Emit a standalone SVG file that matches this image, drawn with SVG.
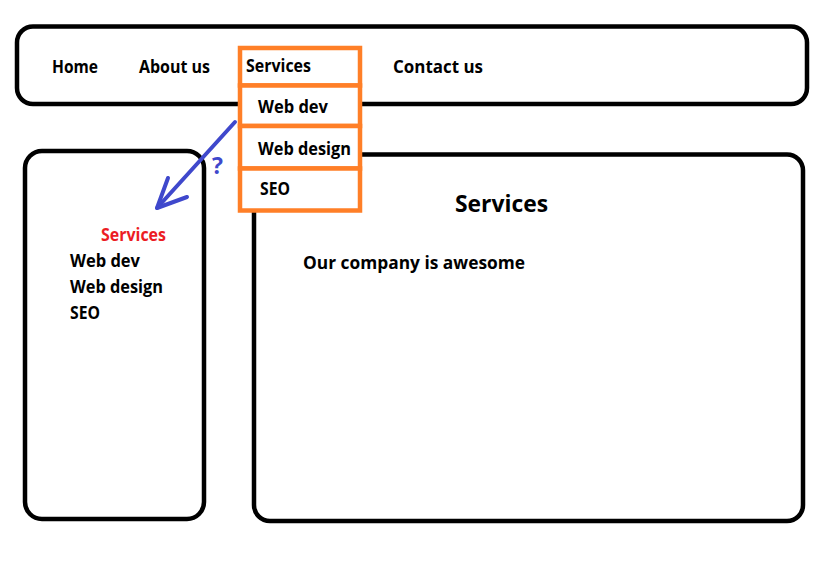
<svg xmlns="http://www.w3.org/2000/svg" width="825" height="563" viewBox="0 0 825 563">
<style>
.box{fill:#fff;stroke:#000;stroke-width:4.5}
.dd{fill:#fff;stroke:#ff7f27;stroke-width:4.5}
text{font-family:"Open Sans","Liberation Sans",sans-serif;font-weight:bold;font-size:17px;fill:#000}
.red{fill:#ec1c24}
.big{font-size:23px}
.arrow{fill:none;stroke:#3f48cc;stroke-width:4;stroke-linecap:round;stroke-linejoin:round}
.q{fill:#3f48cc;font-size:23px}
</style>
<rect width="825" height="563" fill="#fff"/>
<g id="navbar">
<rect class="box" x="17" y="26.5" width="790" height="77.5" rx="16"/>
<text x="52" y="73" textLength="46" lengthAdjust="spacingAndGlyphs">Home</text>
<text x="139" y="73" textLength="71" lengthAdjust="spacingAndGlyphs">About us</text>
<text x="393" y="73" textLength="90" lengthAdjust="spacingAndGlyphs">Contact us</text>
</g>
<g id="sidebar">
<rect class="box" x="25" y="151" width="179" height="368" rx="17"/>
<text class="red" x="101" y="241" textLength="65" lengthAdjust="spacingAndGlyphs">Services</text>
<text x="70" y="267" textLength="70" lengthAdjust="spacingAndGlyphs">Web dev</text>
<text x="70" y="293" textLength="93" lengthAdjust="spacingAndGlyphs">Web design</text>
<text x="70" y="319" textLength="30" lengthAdjust="spacingAndGlyphs">SEO</text>
</g>
<g id="content">
<rect class="box" x="254" y="154.5" width="549" height="366.5" rx="16"/>
<text class="big" x="455" y="212" textLength="93" lengthAdjust="spacingAndGlyphs">Services</text>
<text x="303" y="269" textLength="222" lengthAdjust="spacingAndGlyphs">Our company is awesome</text>
</g>
<g id="dropdown">
<rect class="dd" x="240" y="48" width="120" height="37.5"/>
<rect class="dd" x="240" y="85.5" width="120" height="40.5"/>
<rect class="dd" x="240" y="126" width="120" height="42.5"/>
<rect class="dd" x="240" y="168.5" width="120" height="42"/>
<text x="246" y="72" textLength="65" lengthAdjust="spacingAndGlyphs">Services</text>
<text x="258" y="113" textLength="70" lengthAdjust="spacingAndGlyphs">Web dev</text>
<text x="258" y="154.5" textLength="93" lengthAdjust="spacingAndGlyphs">Web design</text>
<text x="260" y="195" textLength="30" lengthAdjust="spacingAndGlyphs">SEO</text>
</g>
<g id="connectors">
<polyline class="arrow" points="235,122 157,208"/>
<polyline class="arrow" points="168,178 157,208 187,197"/>
<text class="q" x="212" y="174">?</text>
</g>
</svg>
